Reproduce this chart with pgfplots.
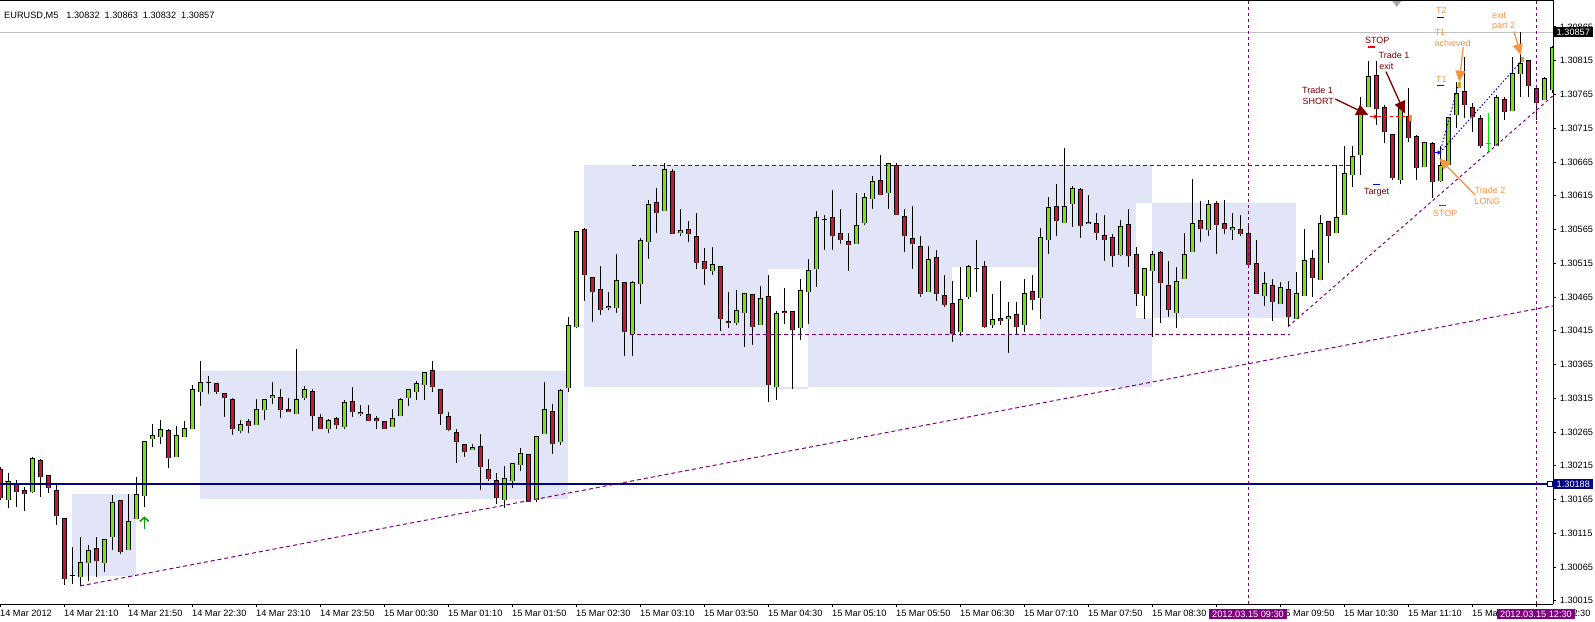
\documentclass[border=0pt]{standalone}
\usepackage{fontspec}
\setmainfont{Liberation Sans}
\usepackage{pgfplots}
\pgfplotsset{compat=1.18}
\usepackage{pgfplotstable}
\usetikzlibrary{arrows.meta}

\definecolor{bullc}{RGB}{124,225,20}
\definecolor{bearc}{RGB}{196,24,58}
\definecolor{lav}{RGB}{226,228,248}
\definecolor{mtpurple}{RGB}{128,0,128}
\definecolor{mtnavy}{RGB}{0,0,128}
\definecolor{darkred}{RGB}{128,0,0}
\definecolor{mtorange}{RGB}{248,148,64}
\definecolor{mtgold}{RGB}{218,165,32}
\definecolor{limec}{RGB}{0,230,0}
\definecolor{mtgreen}{RGB}{20,150,20}
\definecolor{bidgray}{RGB}{192,192,192}

\newcommand{\tickfont}{\fontsize{9.2}{11}\selectfont}
\newcommand{\annfont}{\fontsize{9}{10.5}\selectfont}

% EURUSD M5 candles, bar index 0 = 14 Mar 20:30
\pgfplotstableread{
i O H L C
1 1.30165 1.30204 1.30152 1.30192
4 1.30176 1.30228 1.30175 1.30226
9 1.30052 1.30095 1.30040 1.30052
10 1.30050 1.30110 1.30037 1.30072
11 1.30071 1.30097 1.30044 1.30090
13 1.30071 1.30106 1.30057 1.30106
14 1.30109 1.30171 1.30090 1.30161
16 1.30090 1.30173 1.30090 1.30133
17 1.30136 1.30199 1.30136 1.30173
18 1.30170 1.30251 1.30154 1.30251
19 1.30254 1.30277 1.30243 1.30260
20 1.30257 1.30283 1.30247 1.30268
22 1.30228 1.30274 1.30228 1.30260
23 1.30257 1.30282 1.30257 1.30270
24 1.30269 1.30334 1.30269 1.30328
25 1.30325 1.30370 1.30303 1.30338
26 1.30339 1.30348 1.30322 1.30339
30 1.30267 1.30283 1.30263 1.30276
32 1.30276 1.30314 1.30276 1.30299
33 1.30298 1.30313 1.30283 1.30313
34 1.30316 1.30339 1.30307 1.30319
37 1.30291 1.30388 1.30291 1.30313
38 1.30316 1.30333 1.30313 1.30328
41 1.30270 1.30285 1.30263 1.30282
43 1.30273 1.30313 1.30270 1.30308
45 1.30291 1.30305 1.30288 1.30294
49 1.30273 1.30299 1.30273 1.30285
50 1.30288 1.30315 1.30288 1.30313
51 1.30316 1.30328 1.30303 1.30328
52 1.30325 1.30340 1.30313 1.30337
53 1.30334 1.30353 1.30313 1.30353
59 1.30238 1.30247 1.30238 1.30242
63 1.30165 1.30214 1.30152 1.30196
64 1.30193 1.30219 1.30182 1.30219
65 1.30216 1.30242 1.30208 1.30233
67 1.30165 1.30259 1.30162 1.30259
68 1.30262 1.30339 1.30262 1.30299
70 1.30250 1.30328 1.30246 1.30327
71 1.30330 1.30436 1.30324 1.30423
72 1.30420 1.30562 1.30419 1.30562
76 1.30448 1.30473 1.30445 1.30451
77 1.30448 1.30529 1.30442 1.30490
79 1.30410 1.30488 1.30378 1.30487
80 1.30484 1.30552 1.30455 1.30549
81 1.30547 1.30608 1.30521 1.30602
83 1.30592 1.30664 1.30592 1.30654
85 1.30559 1.30596 1.30555 1.30564
89 1.30504 1.30539 1.30497 1.30513
92 1.30427 1.30476 1.30423 1.30445
93 1.30442 1.30470 1.30391 1.30470
95 1.30423 1.30482 1.30423 1.30463
97 1.30331 1.30444 1.30313 1.30441
100 1.30419 1.30491 1.30402 1.30475
101 1.30473 1.30521 1.30425 1.30504
102 1.30506 1.30592 1.30480 1.30583
103 1.30580 1.30586 1.30534 1.30580
107 1.30544 1.30619 1.30544 1.30571
108 1.30574 1.30619 1.30571 1.30613
109 1.30610 1.30644 1.30596 1.30636
111 1.30619 1.30663 1.30596 1.30662
116 1.30472 1.30540 1.30472 1.30521
120 1.30413 1.30509 1.30407 1.30462
121 1.30465 1.30513 1.30462 1.30510
122 1.30507 1.30549 1.30473 1.30507
124 1.30423 1.30470 1.30419 1.30432
126 1.30433 1.30457 1.30382 1.30436
128 1.30423 1.30491 1.30413 1.30470
130 1.30463 1.30567 1.30432 1.30553
131 1.30550 1.30613 1.30528 1.30598
133 1.30574 1.30685 1.30574 1.30599
134 1.30602 1.30629 1.30568 1.30626
136 1.30573 1.30616 1.30573 1.30576
140 1.30527 1.30579 1.30525 1.30570
143 1.30466 1.30507 1.30432 1.30507
144 1.30504 1.30533 1.30405 1.30528
147 1.30442 1.30510 1.30419 1.30488
148 1.30491 1.30559 1.30491 1.30528
149 1.30531 1.30639 1.30531 1.30574
151 1.30564 1.30608 1.30555 1.30602
154 1.30564 1.30589 1.30549 1.30568
158 1.30466 1.30502 1.30451 1.30485
160 1.30454 1.30487 1.30454 1.30479
162 1.30433 1.30502 1.30433 1.30470
163 1.30467 1.30565 1.30467 1.30519
165 1.30490 1.30586 1.30490 1.30574
167 1.30559 1.30660 1.30559 1.30583
168 1.30586 1.30689 1.30586 1.30648
169 1.30646 1.30689 1.30628 1.30673
170 1.30675 1.30761 1.30646 1.30744
171 1.30747 1.30814 1.30747 1.30792
175 1.30638 1.30747 1.30633 1.30744
178 1.30657 1.30694 1.30657 1.30694
180 1.30637 1.30688 1.30636 1.30660
181 1.30660 1.30731 1.30660 1.30731
182 1.30735 1.30784 1.30715 1.30767
187 1.30689 1.30764 1.30689 1.30761
189 1.30740 1.30820 1.30740 1.30796
190 1.30795 1.30857 1.30761 1.30811
193 1.30756 1.30791 1.30756 1.30788
194 1.30772 1.30836 1.30767 1.30835
}\bull

\pgfplotstableread{
i O H L C
0 1.30210 1.30213 1.30165 1.30167
2 1.30188 1.30194 1.30154 1.30176
3 1.30179 1.30183 1.30148 1.30173
5 1.30223 1.30225 1.30169 1.30198
6 1.30201 1.30201 1.30175 1.30182
7 1.30179 1.30188 1.30128 1.30141
8 1.30137 1.30137 1.30039 1.30048
12 1.30093 1.30110 1.30050 1.30074
15 1.30164 1.30164 1.30084 1.30087
21 1.30267 1.30270 1.30212 1.30226
27 1.30337 1.30337 1.30321 1.30325
28 1.30322 1.30322 1.30287 1.30316
29 1.30313 1.30316 1.30260 1.30269
31 1.30281 1.30284 1.30263 1.30274
35 1.30316 1.30328 1.30286 1.30297
36 1.30299 1.30316 1.30294 1.30294
39 1.30325 1.30328 1.30266 1.30288
40 1.30287 1.30291 1.30269 1.30269
42 1.30285 1.30288 1.30270 1.30276
44 1.30310 1.30331 1.30287 1.30294
46 1.30291 1.30305 1.30281 1.30282
47 1.30285 1.30288 1.30269 1.30282
48 1.30281 1.30282 1.30269 1.30270
54 1.30356 1.30370 1.30325 1.30331
55 1.30328 1.30328 1.30276 1.30291
56 1.30288 1.30294 1.30266 1.30268
57 1.30265 1.30270 1.30219 1.30250
58 1.30247 1.30247 1.30228 1.30236
60 1.30244 1.30262 1.30179 1.30213
61 1.30210 1.30225 1.30192 1.30196
62 1.30193 1.30204 1.30158 1.30167
66 1.30231 1.30231 1.30162 1.30162
69 1.30296 1.30306 1.30233 1.30247
73 1.30565 1.30567 1.30459 1.30497
74 1.30494 1.30494 1.30428 1.30473
75 1.30476 1.30511 1.30439 1.30445
78 1.30487 1.30487 1.30378 1.30413
82 1.30605 1.30627 1.30559 1.30589
84 1.30651 1.30654 1.30558 1.30558
86 1.30565 1.30577 1.30547 1.30558
87 1.30555 1.30589 1.30507 1.30515
88 1.30518 1.30537 1.30482 1.30507
90 1.30510 1.30510 1.30415 1.30432
91 1.30429 1.30473 1.30419 1.30426
94 1.30469 1.30470 1.30394 1.30420
96 1.30465 1.30497 1.30310 1.30334
98 1.30444 1.30478 1.30425 1.30441
99 1.30444 1.30444 1.30328 1.30416
104 1.30582 1.30623 1.30534 1.30556
105 1.30559 1.30596 1.30544 1.30550
106 1.30547 1.30559 1.30504 1.30542
110 1.30638 1.30675 1.30616 1.30616
112 1.30659 1.30663 1.30587 1.30587
113 1.30584 1.30596 1.30531 1.30555
114 1.30552 1.30599 1.30507 1.30543
115 1.30540 1.30555 1.30465 1.30470
117 1.30524 1.30534 1.30459 1.30470
118 1.30467 1.30497 1.30450 1.30453
119 1.30456 1.30488 1.30399 1.30410
123 1.30510 1.30519 1.30419 1.30420
125 1.30433 1.30488 1.30423 1.30430
127 1.30439 1.30457 1.30408 1.30420
129 1.30473 1.30497 1.30445 1.30460
132 1.30599 1.30633 1.30555 1.30577
135 1.30624 1.30626 1.30553 1.30570
137 1.30574 1.30590 1.30550 1.30559
138 1.30556 1.30586 1.30519 1.30550
139 1.30553 1.30559 1.30510 1.30525
141 1.30573 1.30596 1.30510 1.30525
142 1.30528 1.30539 1.30451 1.30469
145 1.30531 1.30533 1.30426 1.30485
146 1.30482 1.30519 1.30436 1.30445
150 1.30579 1.30607 1.30547 1.30565
152 1.30604 1.30607 1.30528 1.30571
153 1.30574 1.30608 1.30558 1.30565
155 1.30565 1.30586 1.30555 1.30558
156 1.30559 1.30574 1.30513 1.30513
157 1.30515 1.30549 1.30469 1.30469
159 1.30482 1.30491 1.30429 1.30457
161 1.30476 1.30488 1.30422 1.30436
164 1.30522 1.30534 1.30465 1.30493
166 1.30577 1.30577 1.30516 1.30556
172 1.30793 1.30814 1.30720 1.30743
173 1.30746 1.30749 1.30693 1.30709
174 1.30706 1.30706 1.30638 1.30641
176 1.30732 1.30774 1.30695 1.30700
177 1.30702 1.30705 1.30638 1.30656
179 1.30693 1.30694 1.30611 1.30636
183 1.30770 1.30821 1.30730 1.30749
184 1.30746 1.30752 1.30710 1.30731
185 1.30730 1.30735 1.30685 1.30688
188 1.30758 1.30761 1.30727 1.30739
191 1.30815 1.30815 1.30761 1.30777
192 1.30774 1.30779 1.30727 1.30752
}\bear

\pgfplotstableread{
i O H L C
186 1.30692 1.30737 1.30680 1.30692
}\limedoji

\pgfplotsset{
  wick/.style={forget plot, draw=none, mark=none,
    error bars/y dir=plus, error bars/y explicit, error bars/error mark=none,
    error bars/error bar style={draw=#1, line width=1pt}},
  bodyline/.style={forget plot, draw=none, mark=none,
    error bars/y dir=plus, error bars/y explicit, error bars/error mark=none,
    error bars/error bar style={draw=black, line width=5pt}},
  bodyfill/.style 2 args={forget plot, draw=none, mark=none,
    error bars/y dir=plus, error bars/y explicit, error bars/error mark=-,
    error bars/error bar style={draw=#1, line width=3pt},
    error bars/error mark options={draw=#2, line width=1pt, mark size=2.5pt, rotate=90}},
}

\begin{document}
\begin{tikzpicture}
\useasboundingbox (0pt,-17pt) rectangle (1595pt,604pt);
\begin{axis}[
    at={(0pt,0pt)}, anchor=south west,
    width=1553pt, height=604pt, scale only axis,
    xmin=0, xmax=194.125,
    ymin=1.300103, ymax=1.309048,
    enlargelimits=false,
    axis x line=bottom, axis y line=right,
    x axis line style={-, line width=1pt},
    y axis line style={-, line width=1pt},
    tick align=outside, major tick length=3pt,
    tick style={black, line width=0.8pt},
    xtick={0,8,...,192},
    xticklabels={14 Mar 2012,14 Mar 21:10,14 Mar 21:50,14 Mar 22:30,14 Mar 23:10,14 Mar 23:50,
      15 Mar 00:30,15 Mar 01:10,15 Mar 01:50,15 Mar 02:30,15 Mar 03:10,15 Mar 03:50,
      15 Mar 04:30,15 Mar 05:10,15 Mar 05:50,15 Mar 06:30,15 Mar 07:10,15 Mar 07:50,
      15 Mar 08:30,15 Mar 09:10,15 Mar 09:50,15 Mar 10:30,15 Mar 11:10,15 Mar 11:50,15 Mar 12:30},
    ytick={1.30015,1.30065,1.30115,1.30165,1.30215,1.30265,1.30315,1.30365,1.30415,
      1.30465,1.30515,1.30565,1.30615,1.30665,1.30715,1.30765,1.30815,1.30865},
    yticklabels={1.30015,1.30065,1.30115,1.30165,1.30215,1.30265,1.30315,1.30365,1.30415,
      1.30465,1.30515,1.30565,1.30615,1.30665,1.30715,1.30765,1.30815,1.30865},
    x tick label style={anchor=west, inner sep=0pt, yshift=-6.3pt, font=\tickfont},
    y tick label style={anchor=west, inner sep=0pt, xshift=3.6pt, font=\tickfont},
    /pgf/number format/assume math mode=true,
]

% rectangles (background)
\fill[lav] (axis cs:9,1.30052) rectangle (axis cs:17,1.30173);
\fill[lav] (axis cs:25,1.30166) rectangle (axis cs:71,1.30355);
\fill[lav] (axis cs:73,1.30332) rectangle (axis cs:144,1.30660);
\fill[lav] (axis cs:142,1.30434) rectangle (axis cs:162,1.30604);
\fill[white] (axis cs:142,1.30434) rectangle (axis cs:144,1.30604);
\fill[white] (axis cs:96,1.30332) rectangle (axis cs:101,1.30506);
\fill[lav] (axis cs:96,1.30328) rectangle (axis cs:101,1.30332);
\fill[white] (axis cs:119,1.30410) rectangle (axis cs:130,1.30509);

% bid line
\addplot[forget plot, bidgray, line width=1pt]
  coordinates {(0,1.30857) (194.125,1.30857)};

% candles
\addplot[wick=black] table[x=i, y=L, y error plus expr=\thisrow{H}-\thisrow{L}] {\bull};
\addplot[wick=black] table[x=i, y=L, y error plus expr=\thisrow{H}-\thisrow{L}] {\bear};
\addplot[wick=limec] table[x=i, y=L, y error plus expr=\thisrow{H}-\thisrow{L}] {\limedoji};
\addplot[bodyline] table[x=i, y=O, y error plus expr=\thisrow{C}-\thisrow{O}] {\bull};
\addplot[bodyline] table[x=i, y=C, y error plus expr=\thisrow{O}-\thisrow{C}] {\bear};
\addplot[bodyfill={bullc}{black}] table[x=i, y=O, y error plus expr=\thisrow{C}-\thisrow{O}] {\bull};
\addplot[bodyfill={bearc}{black}] table[x=i, y=C, y error plus expr=\thisrow{O}-\thisrow{C}] {\bear};
\addplot[bodyfill={limec}{limec}] table[x=i, y=O, y error plus expr=\thisrow{C}-\thisrow{O}] {\limedoji};

% horizontal level
\addplot[forget plot, mtnavy, line width=2.6pt] coordinates {(0,1.30188) (194.125,1.30188)};

% trend lines and range lines
\addplot[forget plot, mtpurple, line width=1pt, dash pattern=on 4pt off 3pt]
  coordinates {(10,1.30037) (194.125,1.30452)};
\addplot[forget plot, mtpurple, line width=1pt, dash pattern=on 3pt off 3pt]
  coordinates {(161,1.30421) (194.125,1.30763)};
\addplot[forget plot, mtpurple, line width=1pt, dash pattern=on 4pt off 3pt]
  coordinates {(79,1.30660) (168.75,1.30660)};
\addplot[forget plot, mtpurple, line width=1pt, dash pattern=on 4pt off 3pt]
  coordinates {(78.75,1.30410) (161.25,1.30410)};
\addplot[forget plot, mtpurple, line width=1pt, dash pattern=on 3pt off 3pt]
  coordinates {(156,1.300103) (156,1.309048)};
\addplot[forget plot, mtpurple, line width=1pt, dash pattern=on 3pt off 3pt]
  coordinates {(192,1.300103) (192,1.309048)};

% trade lines
\addplot[forget plot, red, line width=1pt, dash pattern=on 3pt off 3pt]
  coordinates {(172.2,1.30732) (176.1,1.30732)};
\addplot[forget plot, blue, line width=1pt, dash pattern=on 1.5pt off 2pt]
  coordinates {(180,1.30679) (182.3,1.30780)};
\addplot[forget plot, blue, line width=1pt, dash pattern=on 1.5pt off 2pt]
  coordinates {(180,1.30679) (190.3,1.30816)};
\draw[red, line width=1.2pt, -{Latex[length=4pt,width=5pt]}] (axis cs:171.2,1.30732) -- (axis cs:172.3,1.30732);
\draw[blue, line width=1.2pt, -{Latex[length=4pt,width=5pt]}] (axis cs:179.2,1.30679) -- (axis cs:180.2,1.30679);
\fill[mtgold] (axis cs:176.1,1.30726) rectangle (axis cs:176.5,1.30734);
\fill[mtgold] (axis cs:182.2,1.30775) rectangle (axis cs:182.6,1.30783);
\fill[mtgold] (axis cs:190.1,1.30813) rectangle (axis cs:190.5,1.30821);

% level marks
\draw[red, line width=1.3pt] (axis cs:171.04,1.30835) -- (axis cs:171.88,1.30835);
\draw[blue, line width=1.3pt] (axis cs:171.67,1.30632) -- (axis cs:172.5,1.30632);
\draw[blue, line width=1.3pt] (axis cs:179.58,1.30879) -- (axis cs:180.5,1.30879);
\draw[blue, line width=1.3pt] (axis cs:179.58,1.30778) -- (axis cs:180.5,1.30778);
\draw[red, line width=1.3pt] (axis cs:179.9,1.30600) -- (axis cs:180.75,1.30600);

% annotations
\begin{scope}[every node/.style={anchor=west, inner sep=0pt, font=\annfont}]
\node[text=darkred] at (axis cs:162.75,1.307705) {Trade 1};
\node[text=darkred] at (axis cs:162.8,1.307548) {SHORT};
\node[text=darkred] at (axis cs:172.3,1.308223) {Trade 1};
\node[text=darkred] at (axis cs:172.4,1.308060) {exit};
\node[text=darkred] at (axis cs:170.6,1.308446) {STOP};
\node[text=darkred] at (axis cs:170.5,1.306205) {Target};
\node[text=mtorange] at (axis cs:179.5,1.308900) {T2};
\node[text=mtorange] at (axis cs:179.3,1.308570) {T1};
\node[text=mtorange] at (axis cs:179.3,1.308407) {achieved};
\node[text=mtorange] at (axis cs:179.5,1.307874) {T1};
\node[text=mtorange] at (axis cs:186.5,1.308826) {exit};
\node[text=mtorange] at (axis cs:186.5,1.308663) {part 2};
\node[text=mtorange] at (axis cs:184.3,1.306224) {Trade 2};
\node[text=mtorange] at (axis cs:184.3,1.306067) {LONG};
\node[text=mtorange] at (axis cs:179.1,1.305889) {STOP};
\end{scope}

\draw[darkred, line width=1.3pt, -{Triangle[length=12pt,width=11pt]}]
  (axis cs:166.9,1.307582) -- (axis cs:171.04,1.307345);
\draw[darkred, line width=1.3pt, -{Triangle[length=12pt,width=11pt]}]
  (axis cs:173.25,1.307986) -- (axis cs:175.6,1.307370);
\draw[mtorange, line width=1.3pt, -{Triangle[length=11pt,width=10pt]}]
  (axis cs:182.9,1.308348) -- (axis cs:182.4,1.307838);
\draw[mtorange, line width=1.3pt, -{Triangle[length=11pt,width=10pt]}]
  (axis cs:189.25,1.308579) -- (axis cs:190.1,1.308234);
\draw[mtorange, line width=1.3pt, -{Triangle[length=11pt,width=10pt]}]
  (axis cs:184.4,1.306160) -- (axis cs:179.9,1.306704);

% green arrow object
\draw[mtgreen, line width=1.6pt, -{Straight Barb[length=4pt,width=9pt]}]
  (axis cs:18.04,1.30121) -- (axis cs:18.04,1.30140);

% chart shift marker and title
\fill[gray!70] (axis cs:174.05,1.309034) -- (axis cs:175.15,1.309034) -- (axis cs:174.6,1.308945) -- cycle;
\node[anchor=west, inner sep=0pt, font=\tickfont] at (rel axis cs:0.0026,0.974)
  {EURUSD,M5\hspace{8pt}1.30832\hspace{5pt}1.30863\hspace{5pt}1.30832\hspace{5pt}1.30857};

\coordinate (p857) at (axis cs:194.125,1.30857);
\coordinate (p188) at (axis cs:194.125,1.30188);
\coordinate (d930) at (axis cs:156,1.300103);
\coordinate (d1230) at (axis cs:192,1.300103);
\end{axis}

% frame top line
\draw[black, line width=1pt] (0pt,603.5pt) -- (1553pt,603.5pt);
% price and date boxes
\node[anchor=west, fill=black, text=white, inner xsep=3.5pt, inner ysep=1.6pt, font=\tickfont] at (p857) {1.30857};
\node[anchor=west, fill=mtnavy, text=white, inner xsep=3.5pt, inner ysep=1.6pt, font=\tickfont] at (p188) {1.30188};
\node[anchor=east, draw=mtnavy, fill=white, line width=1pt, minimum size=5pt, inner sep=0pt] at (p188) {};
\node[fill=mtpurple, text=white, inner xsep=3.3pt, inner ysep=1.5pt, font=\tickfont, yshift=-10pt] at (d930) {2012.03.15 09:30};
\node[fill=mtpurple, text=white, inner xsep=3.3pt, inner ysep=1.5pt, font=\tickfont, yshift=-10pt] at (d1230) {2012.03.15 12:30};
\end{tikzpicture}
\end{document}
